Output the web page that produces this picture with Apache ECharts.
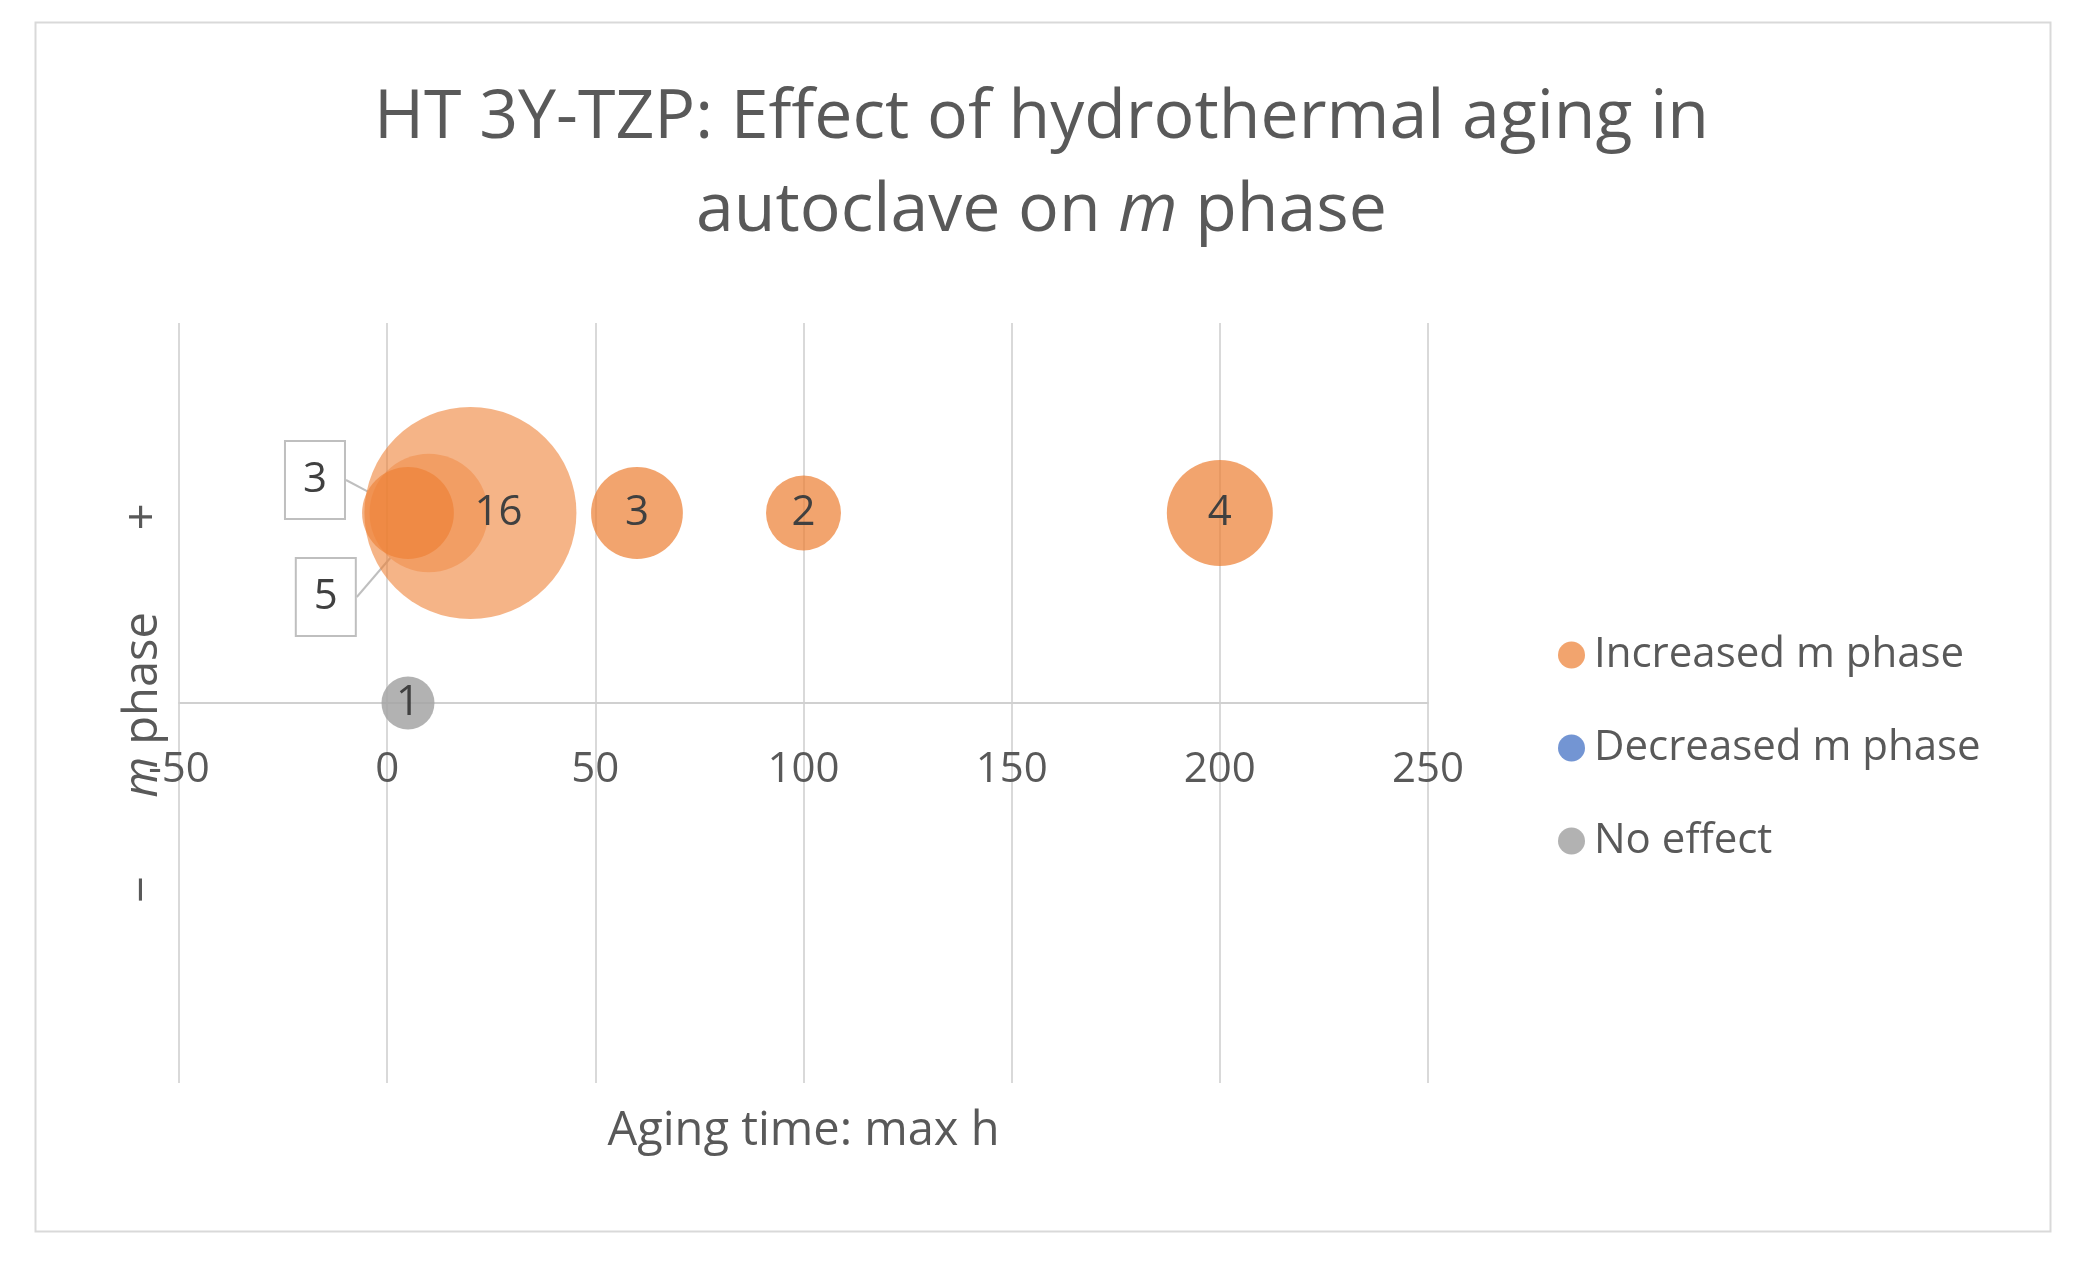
<!DOCTYPE html>
<html>
<head>
<meta charset="utf-8">
<title>HT 3Y-TZP: hydrothermal aging</title>
<script src="https://cdn.jsdelivr.net/npm/echarts@6/dist/echarts.min.js"></script>
<style>
  html, body { margin: 0; padding: 0; background: #fff; }
  #main { width: 2083px; height: 1266px; }
</style>
</head>
<body>
<div id="main"></div>
<script>
const xTicks = [-50, 0, 50, 100, 150, 200, 250];
const seriesNames = ['Increased m phase', 'Decreased m phase', 'No effect'];

// x = aging time (h), y = sign of the change, n = number of studies
const increasedTime = [5, 10, 20, 60, 100, 200];
const increasedSign = [1, 1, 1, 1, 1, 1];
const increasedCount = [3, 5, 16, 3, 2, 4];

const decreasedTime = [];
const decreasedSign = [];
const decreasedCount = [];

const noEffectTime = [5];
const noEffectSign = [0];
const noEffectCount = [1];

const myChart = echarts.init(document.getElementById('main'));

const textColor = '#595959';
const font = '"Open Sans", sans-serif';

function points(xs, ys, ns) {
  return xs.map(function (x, i) { return [x, ys[i], ns[i]]; });
}

// bubble area grows with the count, like Excel
function bubbleSize(val) {
  return 53 * Math.sqrt(val[2]);
}

// the crowded cluster near 0 h: labels nudged, two of them as callouts
const labelShift = { 0: [-93, -33], 1: [-103, 84], 2: [28, 0] };
const clusterOpacity = { 0: 0.6, 1: 0.4, 2: 0.58 };

const increasedData = points(increasedTime, increasedSign, increasedCount).map(function (v, i) {
  const item = { value: v };
  if (i === 0 || i === 1) {
    item.label = {
      backgroundColor: '#fff',
      borderColor: '#bfbfbf',
      borderWidth: 2,
      padding: [17, 17]
    };
    item.labelLine = { show: true };
  }
  if (clusterOpacity[i] !== undefined) {
    item.itemStyle = { opacity: clusterOpacity[i] };
  }
  return item;
});

const bubbleLabel = {
  show: true,
  position: 'inside',
  formatter: function (p) { return p.value[2]; },
  fontSize: 42,
  lineHeight: 42,
  color: '#404040',
  opacity: 1,
  fontFamily: font
};

const option = {
  backgroundColor: '#fff',
  animation: false,
  graphic: [{
    type: 'rect',
    left: 33,
    top: 20,
    silent: true,
    z: -1,
    shape: { width: 2015, height: 1209 },
    style: { fill: 'none', stroke: '#d9d9d9', lineWidth: 2 }
  }],
  title: {
    text: 'HT 3Y-TZP: Effect of hydrothermal aging in\nautoclave on {i|m} phase',
    left: 'center',
    top: 67,
    textStyle: {
      fontSize: 68,
      lineHeight: 93,
      fontWeight: 'normal',
      color: textColor,
      fontFamily: font,
      rich: {
        i: { fontStyle: 'italic', fontSize: 68, lineHeight: 93, color: textColor, fontFamily: font }
      }
    }
  },
  legend: {
    orient: 'vertical',
    left: 1553,
    top: 625,
    icon: 'circle',
    itemWidth: 27,
    itemHeight: 27,
    itemGap: 43,
    data: seriesNames,
    textStyle: {
      fontSize: 42,
      lineHeight: 50,
      color: textColor,
      fontFamily: font,
      padding: [0, 0, 0, 4]
    }
  },
  grid: {
    left: 179,
    right: 655,
    top: 323,
    bottom: 183,
    outerBoundsMode: 'none'
  },
  xAxis: {
    type: 'value',
    min: xTicks[0],
    max: xTicks[xTicks.length - 1],
    interval: xTicks[1] - xTicks[0],
    axisLine: { onZero: true, lineStyle: { color: '#d0d0d0', width: 2 } },
    axisTick: { show: false },
    // labels sit just under the zero line, as in the Excel original
    axisLabel: { fontSize: 42, lineHeight: 42, margin: -334, color: textColor, fontFamily: font },
    splitLine: { lineStyle: { color: '#d9d9d9', width: 2 } },
    name: 'Aging time: max h',
    nameLocation: 'middle',
    nameGap: 25,
    nameTextStyle: { fontSize: 47, color: textColor, fontFamily: font }
  },
  yAxis: {
    type: 'value',
    min: -2,
    max: 2,
    axisLine: { show: false, onZero: false },
    axisTick: { show: false },
    axisLabel: { show: false },
    splitLine: { show: false },
    name: '{pm|\u2212}{g1| }{i|m}{t| phase}{g2| }{pm|+}',
    nameLocation: 'middle',
    nameRotate: 90,
    nameGap: 12,
    nameTextStyle: {
      fontSize: 47,
      color: textColor,
      fontFamily: font,
      rich: {
        pm: { fontSize: 47, color: textColor, fontFamily: font },
        g1: { width: 78, fontSize: 47 },
        g2: { width: 82, fontSize: 47 },
        i: { fontSize: 47, fontStyle: 'italic', color: textColor, fontFamily: font },
        t: { fontSize: 47, color: textColor, fontFamily: font }
      }
    }
  },
  series: [
    {
      name: seriesNames[0],
      type: 'scatter',
      data: increasedData,
      symbolSize: bubbleSize,
      itemStyle: { color: '#ED7D31', opacity: 0.7 },
      label: bubbleLabel,
      labelLine: { lineStyle: { color: '#bfbfbf', width: 2 } },
      labelLayout: function (params) {
        const s = labelShift[params.dataIndex];
        return s ? { dx: s[0], dy: s[1] } : {};
      }
    },
    {
      name: seriesNames[1],
      type: 'scatter',
      data: points(decreasedTime, decreasedSign, decreasedCount),
      symbolSize: bubbleSize,
      itemStyle: { color: '#4472C4', opacity: 0.75 },
      label: bubbleLabel
    },
    {
      name: seriesNames[2],
      type: 'scatter',
      data: points(noEffectTime, noEffectSign, noEffectCount),
      symbolSize: bubbleSize,
      itemStyle: { color: '#A5A5A5', opacity: 0.85 },
      label: bubbleLabel
    }
  ]
};

myChart.setOption(option);
</script>
</body>
</html>
